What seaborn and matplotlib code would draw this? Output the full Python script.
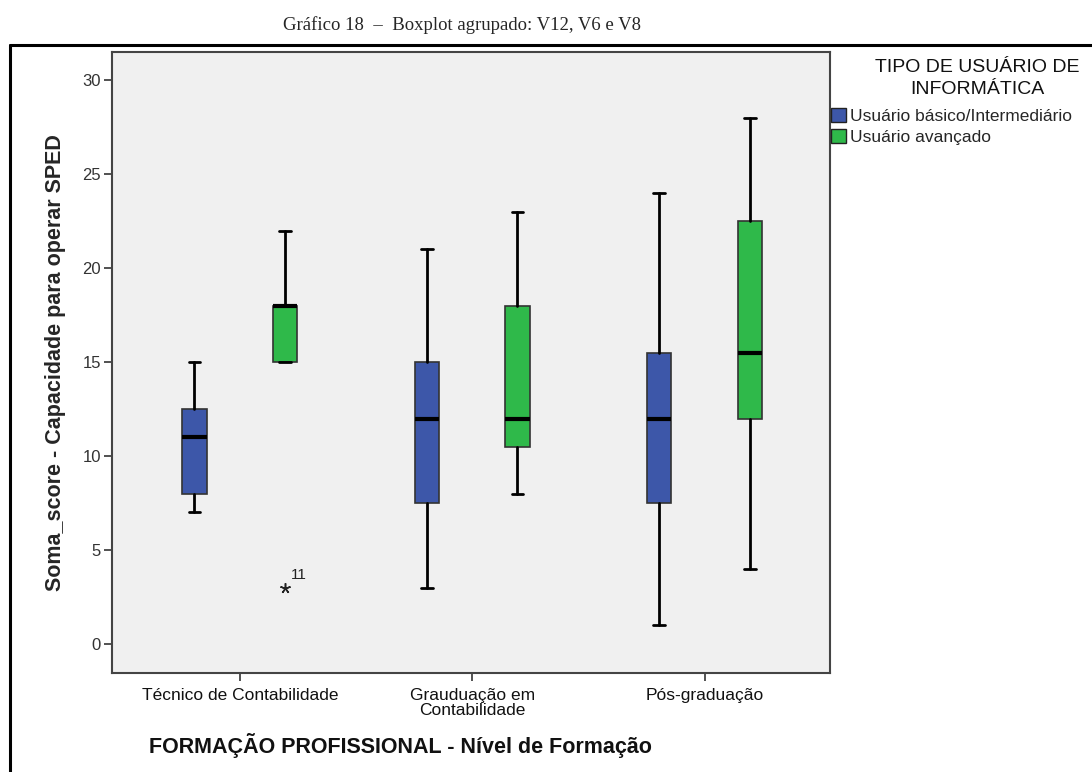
import matplotlib
matplotlib.use("Agg")
import matplotlib.pyplot as plt
from matplotlib.patches import Patch
from matplotlib.lines import Line2D
import seaborn as sns

# categorias e grupos
categorias = ["Técnico de Contabilidade", "Grauduação em\nContabilidade", "Pós-graduação"]
grupos = ["Usuário básico/Intermediário", "Usuário avançado"]
titulo_legenda = ["TIPO DE USUÁRIO DE", "INFORMÁTICA"]
cores = ["#3d57a9", "#2fb94a"]

# estatísticas (mín, Q1, mediana, Q3, máx)
basico_min = [7, 3, 1]
basico_q1 = [8, 7.5, 7.5]
basico_med = [11, 12, 12]
basico_q3 = [12.5, 15, 15.5]
basico_max = [15, 21, 24]

avancado_min = [15, 8, 4]
avancado_q1 = [15, 10.5, 12]
avancado_med = [18, 12, 15.5]
avancado_q3 = [18, 18, 22.5]
avancado_max = [22, 23, 28]

# valores extremos (*) e o nº do caso
avancado_extremos = [[3], [], []]
avancado_casos = [["11"], [], []]
basico_extremos = [[], [], []]
basico_casos = [[], [], []]

series = [
    (basico_min, basico_q1, basico_med, basico_q3, basico_max, basico_extremos, basico_casos),
    (avancado_min, avancado_q1, avancado_med, avancado_q3, avancado_max, avancado_extremos, avancado_casos),
]

sns.set_style("ticks")
plt.rcParams['font.family'] = ['Liberation Sans', 'DejaVu Sans']

fig = plt.figure(figsize=(10.92, 7.72), dpi=100)
W, H = 1092, 772
ax = fig.add_axes([112 / W, 1 - 673 / H, (830 - 112) / W, (673 - 52) / H])
ax.set_facecolor("#f0f0f0")

desloc = [-0.195, 0.195]
for g, (mn, q1, med, q3, mx, ext, casos) in enumerate(series):
    stats = []
    for i in range(len(categorias)):
        stats.append(dict(whislo=mn[i], q1=q1[i], med=med[i], q3=q3[i], whishi=mx[i], fliers=[]))
    pos = [i + desloc[g] for i in range(len(categorias))]
    ax.bxp(stats, positions=pos, widths=0.105, patch_artist=True, showfliers=False,
           capwidths=0.05,
           boxprops=dict(facecolor=cores[g], edgecolor="#333333", linewidth=1.2),
           medianprops=dict(color="black", linewidth=3, solid_capstyle="butt"),
           whiskerprops=dict(color="black", linewidth=2),
           capprops=dict(color="black", linewidth=2))
    for i in range(len(categorias)):
        for v, c in zip(ext[i], casos[i]):
            ax.plot(pos[i], v, marker=(5, 2, 0), color="#222222", markersize=7.5, markeredgewidth=1.1)
            ax.annotate(c, (pos[i], v), xytext=(4, 6), textcoords="offset points",
                        fontsize=11, color="#222222")

ax.set_xlim(-0.55, 2.54)
ax.set_ylim(-1.54, 31.5)
ax.set_yticks([0, 5, 10, 15, 20, 25, 30])
ax.set_xticks(range(len(categorias)))
ax.set_xticklabels(categorias, fontsize=12.5, linespacing=1.0)
ax.tick_params(axis="y", labelsize=12, length=6, width=1.2, color="#333333", labelcolor="#333333", pad=2)
ax.tick_params(axis="x", length=6, width=1.2, color="#333333", labelcolor="#111111", pad=5)
for s in ax.spines.values():
    s.set_color("#444444")
    s.set_linewidth(1.5)

ax.set_ylabel("Soma_score - Capacidade para operar SPED", fontsize=15.5, fontweight="bold", labelpad=12)
fig.text(400 / W, 1 - 745 / H, "FORMAÇÃO PROFISSIONAL - Nível de Formação",
         ha="center", va="center", fontsize=15.5, fontweight="bold", color="#111111")

handles = [Patch(facecolor=cores[k], edgecolor="#222222", label=grupos[k]) for k in range(2)]
leg = fig.legend(handles=handles, loc="upper left", bbox_to_anchor=(831 / W, 1 - 108 / H),
                 frameon=False, fontsize=12.5,
                 handlelength=0.85, handleheight=0.85, handletextpad=0.25,
                 labelspacing=0.3, borderaxespad=0, borderpad=0)
for linha, y in zip(titulo_legenda, [68, 89]):
    fig.text(977 / W, 1 - y / H, linha, ha="center", va="center", fontsize=14, color="#111111")

fig.text(462 / W, 1 - 25 / H, "Gráfico 18  \u2013  Boxplot agrupado: V12, V6 e V8",
         ha="center", va="center", fontsize=13.5, family=["Liberation Serif", "DejaVu Serif"])

fig.add_artist(Line2D([10 / W, 1], [1 - 45 / H, 1 - 45 / H], color="black", linewidth=2.2))
fig.add_artist(Line2D([10 / W, 10 / W], [0, 1 - 45 / H], color="black", linewidth=2.2))

fig.savefig("out.png", dpi=100)
